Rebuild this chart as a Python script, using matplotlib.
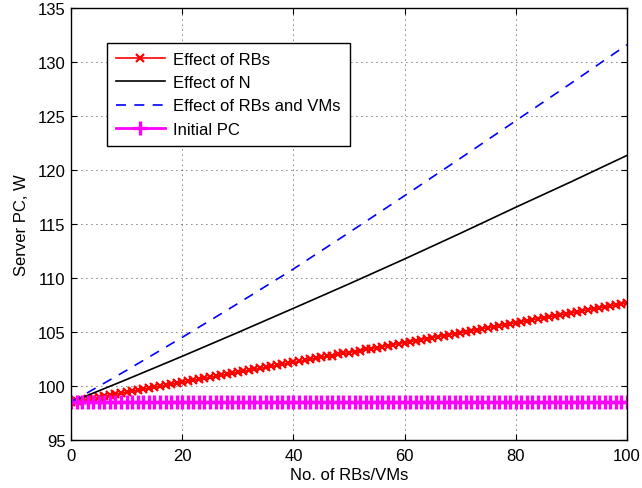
import numpy as np
import matplotlib
matplotlib.use('Agg')
import matplotlib.pyplot as plt

plt.rcParams['font.family'] = ['Liberation Sans', 'DejaVu Sans']

# number of RBs / VMs
n = np.arange(0, 101)

# effect of RBs (one value per RB)
eff_rbs = [98.50, 98.59, 98.68, 98.78, 98.87, 98.96, 99.05, 99.14, 99.24, 99.33,
           99.42, 99.51, 99.60, 99.70, 99.79, 99.88, 99.97, 100.06, 100.16, 100.25,
           100.34, 100.43, 100.52, 100.62, 100.71, 100.80, 100.89, 100.98, 101.08, 101.17,
           101.26, 101.35, 101.44, 101.54, 101.63, 101.72, 101.81, 101.90, 102.00, 102.09,
           102.18, 102.27, 102.36, 102.46, 102.55, 102.64, 102.73, 102.82, 102.92, 103.01,
           103.10, 103.19, 103.28, 103.38, 103.47, 103.56, 103.65, 103.74, 103.84, 103.93,
           104.02, 104.11, 104.20, 104.30, 104.39, 104.48, 104.57, 104.66, 104.76, 104.85,
           104.94, 105.03, 105.12, 105.22, 105.31, 105.40, 105.49, 105.58, 105.68, 105.77,
           105.86, 105.95, 106.04, 106.14, 106.23, 106.32, 106.41, 106.50, 106.60, 106.69,
           106.78, 106.87, 106.96, 107.06, 107.15, 107.24, 107.33, 107.42, 107.52, 107.61,
           107.70]

# effect of N and of RBs+VMs, read every 10
n10 = [0, 10, 20, 30, 40, 50, 60, 70, 80, 90, 100]
eff_n = [98.5, 100.6, 102.75, 104.95, 107.19, 109.45, 111.76, 114.13, 116.55, 118.92, 121.35]
eff_rbs_vms = [98.5, 101.45, 104.5, 107.63, 110.83, 114.2, 117.62, 121.07, 124.56, 128.05, 131.6]

initial_pc = [98.5] * 101

fs = 12

fig = plt.figure(figsize=(6.42, 4.89), dpi=100)
ax = fig.add_axes([0.1106, 0.0982, 0.866, 0.8834])

ax.plot(n, eff_rbs, color='red', marker='x', markersize=6, markeredgewidth=1.6,
        linewidth=1.2, label='Effect of RBs')
ax.plot(n10, eff_n, color='black', linewidth=1.2, label='Effect of N')
ax.plot(n10, eff_rbs_vms, color='blue', linestyle=(0, (6, 5)), linewidth=1.2,
        label='Effect of RBs and VMs')
ax.plot(n, initial_pc, color='magenta', marker='+', markersize=10, markeredgewidth=2.4,
        linewidth=2, label='Initial PC')

ax.set_xlim(0, 100)
ax.set_ylim(95, 135)
ax.set_xticks(range(0, 101, 20))
ax.set_yticks(range(95, 136, 5))
ax.tick_params(direction='in', length=4, labelsize=fs, top=True, right=True)
ax.tick_params(axis='x', pad=6)
ax.tick_params(axis='y', pad=4)
ax.grid(True, linestyle=(0, (1, 5)), color='black', linewidth=0.6)
for s in ax.spines.values():
    s.set_linewidth(1)

ax.set_xlabel('No. of RBs/VMs', fontsize=fs, labelpad=3)
ax.set_ylabel('Server PC, W', fontsize=fs, labelpad=6)

leg = ax.legend(loc='upper left', bbox_to_anchor=(0.065, 0.92), borderaxespad=0,
                fontsize=fs, fancybox=False, edgecolor='black', framealpha=1,
                handlelength=2.9, borderpad=0.55, labelspacing=0.5, handletextpad=0.5)
leg.get_frame().set_linewidth(1)

fig.savefig('out.png', dpi=100)
